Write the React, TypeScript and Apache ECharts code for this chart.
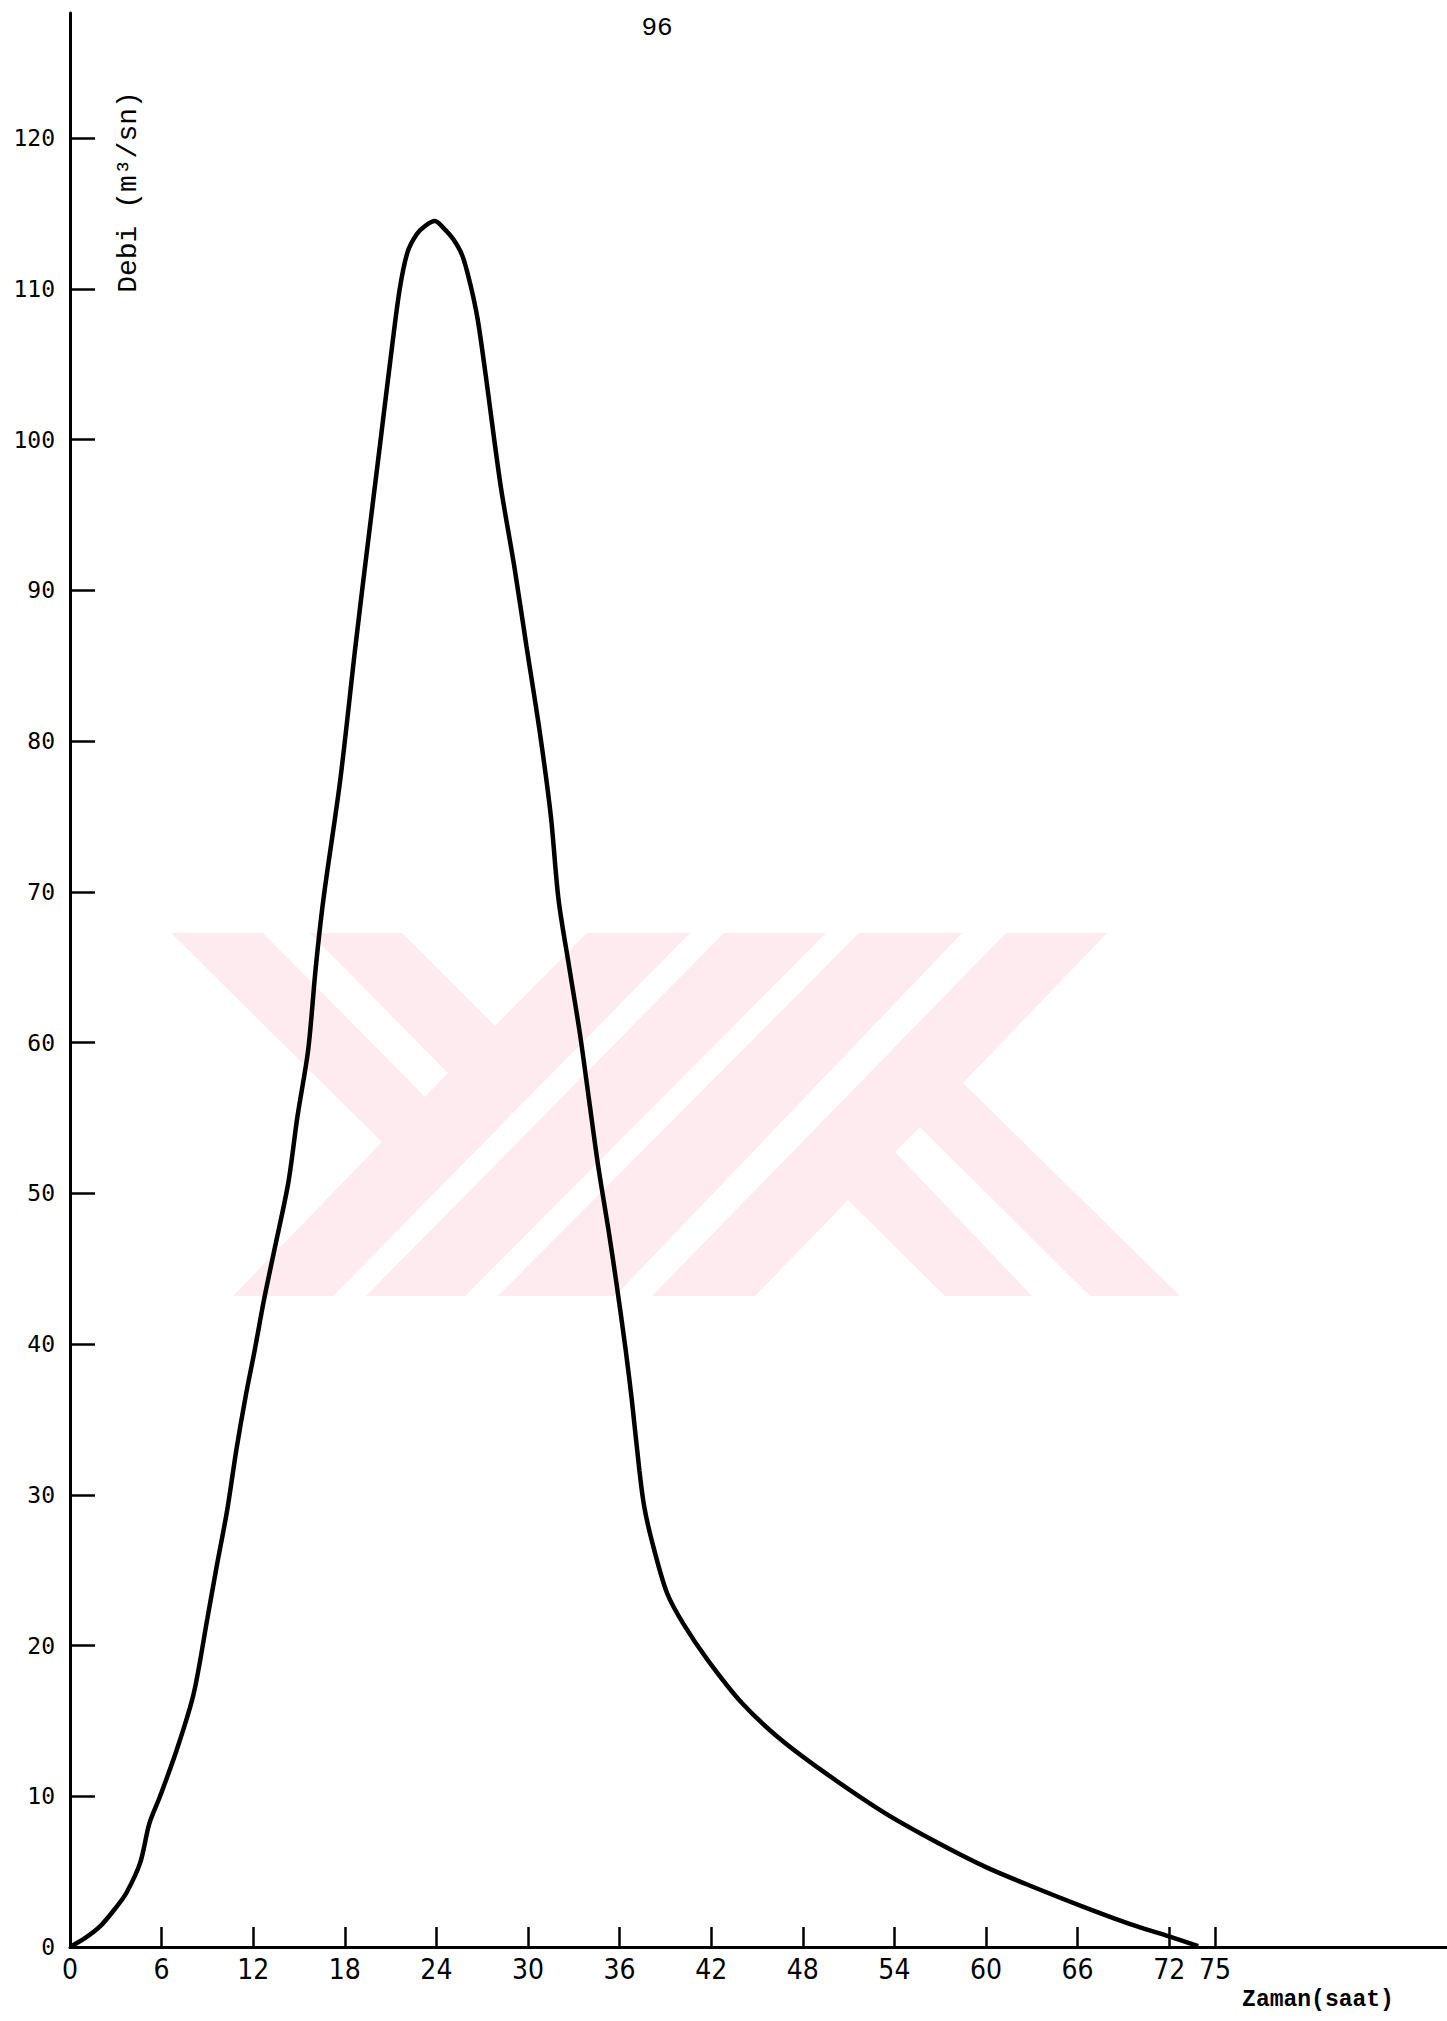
import React, { useEffect, useRef } from "react";
import * as echarts from "echarts";

// Hydrograph: time (hours) vs discharge (m3/s)
const timeHours = [
  0, 1, 2, 3, 3.7, 4.6, 5.2, 5.9, 7.0, 8.1, 9.0, 9.6, 10.3, 10.9, 11.5, 12.1,
  12.7, 13.4, 14.3, 14.9, 15.6, 16.1, 16.6, 17.7, 18.7, 19.4, 20.3, 21.1, 21.6,
  22.1, 22.7, 23.3, 23.9, 24.5, 25.1, 25.7, 26.2, 26.7, 27.2, 28.2, 29.1, 29.9,
  30.8, 31.5, 32.0, 32.7, 33.4, 34.0, 34.6, 35.3, 35.8, 36.4, 36.8, 37.3, 37.6,
  38.1, 39.1, 40.2, 41.8, 44.0, 46.4, 49.4, 53.2, 56.5, 60.0, 63.3, 66.3, 69.5,
  72.0, 73.9,
];
const discharge = [
  0, 0.6, 1.4, 2.6, 3.6, 5.6, 8.2, 10.0, 13.1, 16.8, 21.8, 25.2, 29.0, 33.0,
  36.5, 39.6, 42.9, 46.3, 50.7, 55.1, 59.5, 65.0, 69.5, 77.4, 86.3, 92.2, 99.6,
  106.2, 110.0, 112.4, 113.6, 114.2, 114.5, 114.0, 113.3, 112.2, 110.4, 108.0,
  104.5, 97.0, 91.6, 86.3, 80.4, 75.0, 69.5, 65.0, 60.6, 56.2, 51.8, 47.4, 44.0,
  39.6, 36.3, 31.6, 29.3, 27.0, 23.5, 21.4, 19.0, 16.2, 13.9, 11.6, 9.0, 7.1,
  5.3, 3.9, 2.7, 1.5, 0.7, 0.05,
];
const xTickValues = [0, 6, 12, 18, 24, 30, 36, 42, 48, 54, 60, 66, 72, 75];
const yTickValues = [0, 10, 20, 30, 40, 50, 60, 70, 80, 90, 100, 110, 120];

const pageTitle = "96";
const xAxisTitle = "Zaman(saat)";
const yAxisTitle = "Debi (m³/sn)";

const PINK = "#fdebef";

function poly(points: number[][], fill: string) {
  return { type: "polygon", silent: true, shape: { points }, style: { fill } };
}

export default function App() {
  const ref = useRef<HTMLDivElement>(null);

  useEffect(() => {
    document.body.style.margin = "0";
    const chart = echarts.init(ref.current!, null, { renderer: "svg" });

    const watermark = [
      poly(
        [
          [171, 933],
          [1107, 933],
          [963, 1083],
          [1180, 1296],
          [233, 1296],
          [382, 1142],
        ],
        PINK
      ),
      poly([[263, 933], [310, 933], [448, 1073], [425, 1097]], "#ffffff"),
      poly([[402, 933], [587, 933], [495, 1026]], "#ffffff"),
      poly([[690, 933], [724, 933], [366, 1296], [333, 1296]], "#ffffff"),
      poly([[826, 933], [859, 933], [498, 1296], [465, 1296]], "#ffffff"),
      poly([[962, 933], [1006, 933], [652, 1296], [615, 1296]], "#ffffff"),
      poly([[755, 1296], [848, 1200], [945, 1296]], "#ffffff"),
      poly([[895, 1152], [920, 1127], [1090, 1296], [1032, 1296]], "#ffffff"),
    ];

    const option: any = {
      animation: false,
      backgroundColor: "#ffffff",
      grid: { left: 70, right: 0, top: 13, bottom: 74, containLabel: false },
      xAxis: {
        type: "value",
        min: 0,
        max: 90.2,
        axisLine: { show: true, onZero: false, lineStyle: { color: "#000", width: 3 } },
        axisTick: {
          show: true,
          inside: true,
          length: 20,
          customValues: xTickValues,
          lineStyle: { color: "#000", width: 2.5 },
        },
        axisLabel: {
          show: true,
          customValues: xTickValues,
          margin: 8,
          color: "#000",
          fontSize: 28,
          fontFamily: "'DejaVu Sans Condensed', 'Liberation Sans Narrow', sans-serif",
        },
        splitLine: { show: false },
      },
      yAxis: {
        type: "value",
        min: 0,
        max: 128.3,
        axisLine: { show: true, lineStyle: { color: "#000", width: 3 } },
        axisTick: {
          show: true,
          inside: true,
          length: 25,
          customValues: yTickValues,
          lineStyle: { color: "#000", width: 2.5 },
        },
        axisLabel: {
          show: true,
          customValues: yTickValues,
          margin: 15,
          color: "#000",
          fontSize: 23,
          fontFamily: "'DejaVu Sans Mono', monospace",
        },
        splitLine: { show: false },
      },
      graphic: [
        ...watermark,
        {
          type: "text",
          silent: true,
          x: 657,
          y: 28,
          style: {
            text: pageTitle,
            fill: "#000",
            font: "26px 'Liberation Mono', monospace",
            align: "center",
            verticalAlign: "middle",
          },
        },
        {
          type: "text",
          silent: true,
          x: 128,
          y: 192,
          rotation: Math.PI / 2,
          style: {
            text: yAxisTitle,
            fill: "#000",
            font: "28px 'Liberation Mono', monospace",
            align: "center",
            verticalAlign: "middle",
          },
        },
        {
          type: "text",
          silent: true,
          x: 1318,
          y: 2000,
          style: {
            text: xAxisTitle,
            fill: "#000",
            font: "bold 23px 'Liberation Mono', monospace",
            align: "center",
            verticalAlign: "middle",
          },
        },
      ],
      series: [
        {
          type: "line",
          data: timeHours.map((t, i) => [t, discharge[i]]),
          showSymbol: false,
          smooth: 0.3,
          lineStyle: { color: "#000", width: 4.5 },
          z: 5,
        },
      ],
    };

    chart.setOption(option);
    return () => chart.dispose();
  }, []);

  return (
    <div
      ref={ref}
      style={{ position: "absolute", left: 0, top: 0, width: 1447, height: 2021 }}
    />
  );
}
